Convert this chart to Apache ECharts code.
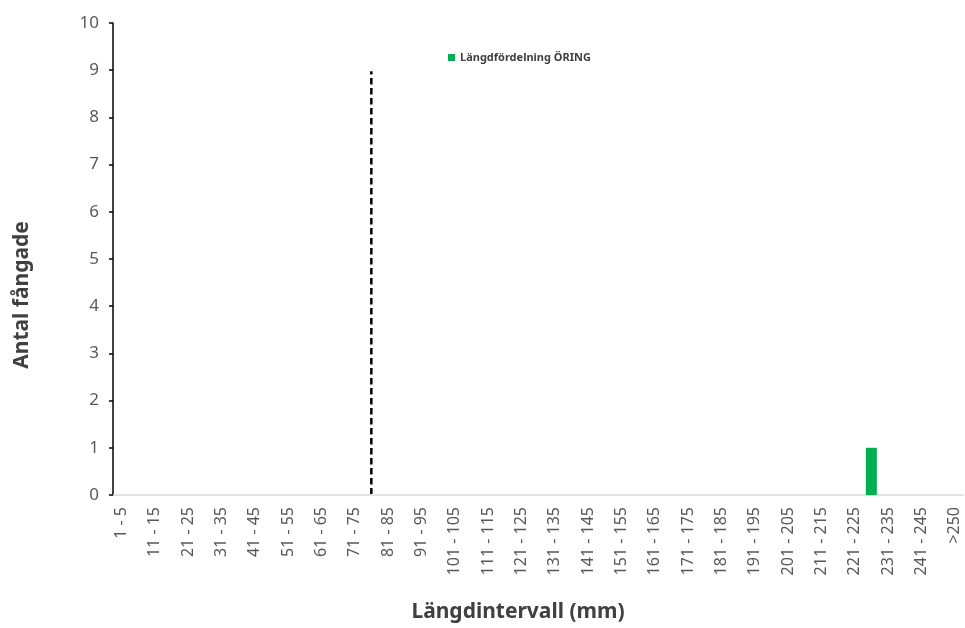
<!DOCTYPE html>
<html>
<head>
<meta charset="utf-8">
<script src="https://cdn.jsdelivr.net/npm/echarts@6/dist/echarts.min.js"></script>
<style>
html,body{margin:0;padding:0;background:#fff;}
#c{width:965px;height:628px;}
</style>
</head>
<body>
<div id="c"></div>
<script>
const categories = ["1 - 5","6 - 10","11 - 15","16 - 20","21 - 25","26 - 30","31 - 35","36 - 40","41 - 45","46 - 50",
"51 - 55","56 - 60","61 - 65","66 - 70","71 - 75","76 - 80","81 - 85","86 - 90","91 - 95","96 - 100",
"101 - 105","106 - 110","111 - 115","116 - 120","121 - 125","126 - 130","131 - 135","136 - 140","141 - 145","146 - 150",
"151 - 155","156 - 160","161 - 165","166 - 170","171 - 175","176 - 180","181 - 185","186 - 190","191 - 195","196 - 200",
"201 - 205","206 - 210","211 - 215","216 - 220","221 - 225","226 - 230","231 - 235","236 - 240","241 - 245","246 - 250",">250"];
const oringValues = [0,0,0,0,0,0,0,0,0,0, 0,0,0,0,0,0,0,0,0,0, 0,0,0,0,0,0,0,0,0,0, 0,0,0,0,0,0,0,0,0,0, 0,0,0,0,0,1,0,0,0,0, 0];
const markerValues = [null,null,null,null,null,null,null,null,null,null, null,null,null,null,null,9,null,null,null,null,
null,null,null,null,null,null,null,null,null,null, null,null,null,null,null,null,null,null,null,null,
null,null,null,null,null,null,null,null,null,null, null];
const yTicks = [0,1,2,3,4,5,6,7,8,9,10];

const font = "'Noto Sans', 'Open Sans', sans-serif";
const chart = echarts.init(document.getElementById('c'), null, {renderer:'canvas'});
chart.setOption({
  animation:false,
  textStyle:{fontFamily:font},
  grid:{left:113, right:2, top:23, bottom:133, containLabel:false},
  legend:{
    data:['Längdfördelning ÖRING'],
    left:443, top:47, itemWidth:7, itemHeight:7, itemGap:3,
    icon:'rect',
    textStyle:{fontSize:11, color:'#404040', fontWeight:'bold', fontFamily:font}
  },
  xAxis:[{
    type:'category', data:categories,
    name:'Längdintervall (mm)', nameLocation:'middle', nameGap:107,
    nameTextStyle:{fontSize:21, fontWeight:'bold', color:'#404040', fontFamily:font, padding:[0,40,0,0]},
    axisLine:{lineStyle:{color:'#d9d9d9', width:1.5}},
    axisTick:{show:false},
    axisLabel:{rotate:90, interval:1, fontSize:16, color:'#595959', margin:12, fontFamily:font}
  },{
    type:'category', data:categories, position:'bottom', show:false
  }],
  yAxis:{
    type:'value', min:yTicks[0], max:yTicks[yTicks.length-1], interval:1,
    name:'Antal fångade', nameLocation:'middle', nameGap:80,
    nameTextStyle:{fontSize:21, fontWeight:'bold', color:'#404040', fontFamily:font, padding:[0,72,0,0]},
    axisLine:{show:true, lineStyle:{color:'#000', width:1.5}},
    axisTick:{show:true, length:4, lineStyle:{color:'#000', width:1.5}},
    splitLine:{show:false},
    axisLabel:{fontSize:17, color:'#595959', margin:14, fontFamily:font}
  },
  series:[
    {
      name:'Längdfördelning ÖRING', type:'bar', data:oringValues, xAxisIndex:0,
      barWidth:11,
      itemStyle:{color:'#00b050'}
    },
    {
      name:'Markering', type:'bar', data:markerValues, xAxisIndex:1,
      barWidth:2,
      itemStyle:{color:'rgba(0,0,0,0)', borderColor:'#000', borderWidth:2.5, borderType:[6,4]}
    }
  ]
});
</script>
</body>
</html>
